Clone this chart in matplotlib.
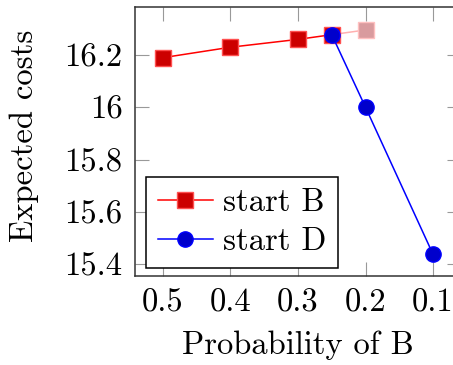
import matplotlib
matplotlib.use("Agg")
import matplotlib.pyplot as plt

# Data
prob_b = [0.5, 0.4, 0.3, 0.25]
cost_b = [16.19, 16.23, 16.26, 16.278]
prob_b_faded = [0.25, 0.2]
cost_b_faded = [16.278, 16.296]
prob_d = [0.25, 0.2, 0.1]
cost_d = [16.278, 16.0, 15.437]
xticks = [0.5, 0.4, 0.3, 0.2, 0.1]
xtick_labels = ["0.5", "0.4", "0.3", "0.2", "0.1"]
yticks = [15.4, 15.6, 15.8, 16.0, 16.2]
ytick_labels = ["15.4", "15.6", "15.8", "16", "16.2"]

plt.rcParams['font.family'] = ['cmr10', 'DejaVu Serif']
plt.rcParams['axes.formatter.use_mathtext'] = True

fs = 23.5
fig = plt.figure(figsize=(4.53, 3.65), dpi=100)
ax = fig.add_axes([135/453, 89/365, 326/453, 269/365])

ax.plot(prob_b_faded, cost_b_faded, color='#ffb0b0', lw=1.1, marker='s', ms=11.5,
        mfc='#d99b9e', mec='#ffc0c0', mew=1.0, markevery=[1], zorder=2)
ax.plot(prob_b, cost_b, color='red', lw=1.1, marker='s', ms=11.5,
        mfc='#cc0000', mec='#ff5050', mew=1.0, label='start B', zorder=3)
ax.plot(prob_d, cost_d, color='blue', lw=1.1, marker='o', ms=11,
        mfc='#0000cc', mec='#0000ff', mew=1.0, label='start D', zorder=4)

ax.set_xlim(0.5414, 0.0586)
ax.set_ylim(15.354, 16.384)
ax.set_xticks(xticks)
ax.set_xticklabels(xtick_labels)
ax.set_yticks(yticks)
ax.set_yticklabels(ytick_labels)

ax.tick_params(direction='in', length=10, width=0.8, color='#999999',
               top=True, right=True, labelsize=fs)
ax.tick_params(axis='y', pad=9)
ax.tick_params(axis='x', pad=9)
for s in ax.spines.values():
    s.set_color('#333333')
    s.set_linewidth(1.1)

ax.set_xlabel('Probability of B', fontsize=fs)
ax.set_ylabel('Expected costs', fontsize=fs)
ax.xaxis.set_label_coords(0.5, (276-345)/269)
ax.xaxis.label.set_va('center')
ax.yaxis.set_label_coords((24-135)/326, (276-135.5)/269)
ax.yaxis.label.set_va('center')

leg = ax.legend(loc='lower left', bbox_to_anchor=(0.034, 0.031), borderaxespad=0,
                fontsize=fs, handlelength=1.7, handletextpad=0.3, labelspacing=0.3,
                borderpad=0.35, fancybox=False, framealpha=1, edgecolor='black',
                numpoints=1)
leg.get_frame().set_linewidth(1.1)

fig.savefig('out.png', dpi=100)
